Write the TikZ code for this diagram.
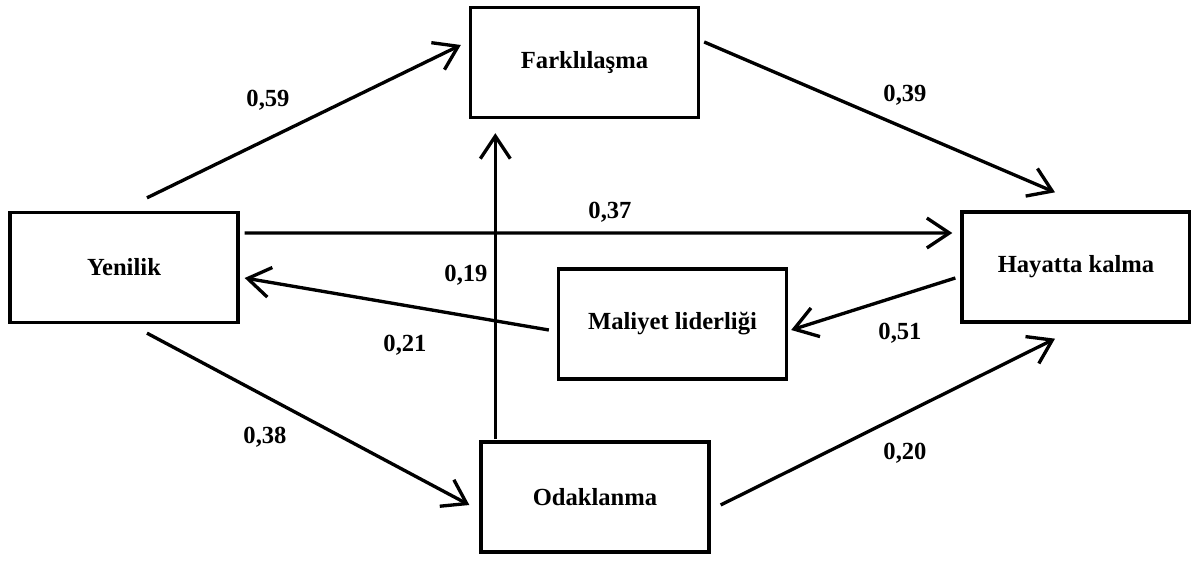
\documentclass[tikz,border=0pt]{standalone}
\usepackage{fontspec}
\setmainfont{Liberation Serif}
\usetikzlibrary{calc,arrows.meta}

\begin{document}
\begin{tikzpicture}[
  kutu/.style={draw,line width=1.9pt,minimum width=4.56cm,minimum height=2.2cm,inner sep=0pt,font=\fontsize{14}{17}\selectfont\bfseries},
  ok/.style={line width=1.9pt,-{Straight Barb[length=0.45cm,width=0.6cm,line width=1.9pt]}},
  katsayi/.style={font=\fontsize{14}{17}\selectfont\bfseries}]
\useasboundingbox (0,0) rectangle (23.82,11.2);
% kutular
\node[kutu] (yen) at (2.48,5.85) {Yenilik};
\node[kutu] (far) at (11.69,9.95) {Farklılaşma};
\node[kutu] (hay) at (21.52,5.86) {Hayatta kalma};
\node[kutu] (mal) at (13.45,4.72) {Maliyet liderliği};
\node[kutu] (oda) at (11.9,1.26) {Odaklanma};
\coordinate (dik) at ($(oda.north west)+(0.32,0.02)$);
% oklar
\draw[ok] ($(yen.north)+(0.46,0.26)$) -- ($(far.west)+(-0.16,0.35)$);
\draw[ok] ($(far.east)+(0.08,0.41)$) -- ($(hay.north)+(-0.42,0.36)$);
\draw[ok] ($(yen.east)+(0.1,0.69)$) -- ($(hay.west)+(-0.16,0.68)$);
\draw[ok] ($(mal.west)+(-0.16,-0.12)$) -- ($(yen.east)+(0.1,-0.21)$);
\draw[ok] ($(hay.west)+(-0.1,-0.22)$) -- ($(mal.east)+(0.06,-0.12)$);
\draw[ok] ($(yen.south)+(0.46,-0.18)$) -- ($(oda.west)+(-0.2,-0.16)$);
\draw[ok] ($(oda.east)+(0.2,-0.16)$) -- ($(hay.south)+(-0.42,-0.3)$);
\draw[ok] (dik) -- ($(dik |- far.south)+(0,-0.28)$);
% katsayilar
\node[katsayi] (k59) at (5.36,9.2) {0,59};
\node[katsayi] (k39) at (18.1,9.3) {0,39};
\node[katsayi] (k37) at (12.2,6.96) {0,37};
\node[katsayi] (k19) at (9.32,5.7) {0,19};
\node[katsayi] (k21) at (8.1,4.3) {0,21};
\node[katsayi] (k51) at (18.0,4.54) {0,51};
\node[katsayi] (k38) at (5.3,2.46) {0,38};
\node[katsayi] (k20) at (18.1,2.14) {0,20};
\end{tikzpicture}
\end{document}
